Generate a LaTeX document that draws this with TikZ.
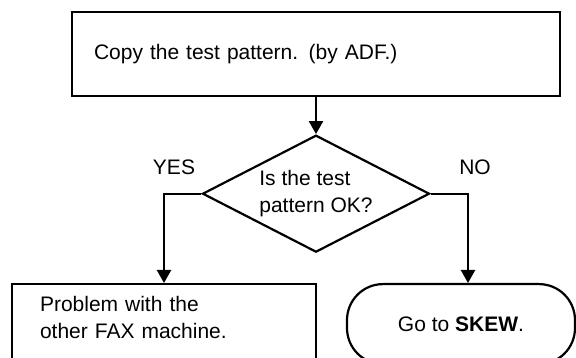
\documentclass[tikz,border=0pt]{standalone}
\usepackage{fontspec}
\setmainfont{Liberation Sans}
\usepackage{tikz}
\usetikzlibrary{shapes.geometric, positioning, arrows.meta, calc}

\begin{document}
\begin{tikzpicture}[
  x=1pt, y=-1pt,
  font=\fontsize{21}{27}\selectfont,
  node distance=37pt,
  box/.style={
    draw, line width=2.2pt, inner sep=0pt
  },
  action/.style={box, align=left, inner xsep=22pt},
  decision/.style={box, diamond, aspect=1.94, align=left,
    minimum width=227pt, minimum height=117pt},
  terminal/.style={box, rounded corners=36pt, align=center},
  flow/.style={line width=2.2pt, -{Triangle[length=13pt,width=14pt]}},
  answer/.style={inner sep=0pt}
]
\clip (0,0) rectangle (576,358);
\node[action, minimum width=488pt, minimum height=84pt, text width=444pt] (copy) at (316,54)
  {Copy the test pattern. (by ADF.)};
\node[decision, below=of copy] (test) {Is the test\\pattern OK?};
\node[action, inner xsep=28pt, minimum width=304pt, minimum height=84pt, text width=248pt,
  anchor=north] (other) at (164,283)
  {Problem with the\\other FAX machine.\rule[-18pt]{0pt}{18pt}};
\node[terminal, minimum width=228pt, minimum height=80pt,
  anchor=north] (skew) at (461,283) {Go to \textbf{SKEW}.};
% answers
\node[answer] (yes) at (174,167) {YES};
\node[answer] (no) at (475,167) {NO};
% connectors
\draw[flow] (copy) -- (test);
\draw[flow] (test.west) -| (other.north);
\draw[flow] (test.east) -| ($(skew.north)+(7,0)$);
\end{tikzpicture}
\end{document}
